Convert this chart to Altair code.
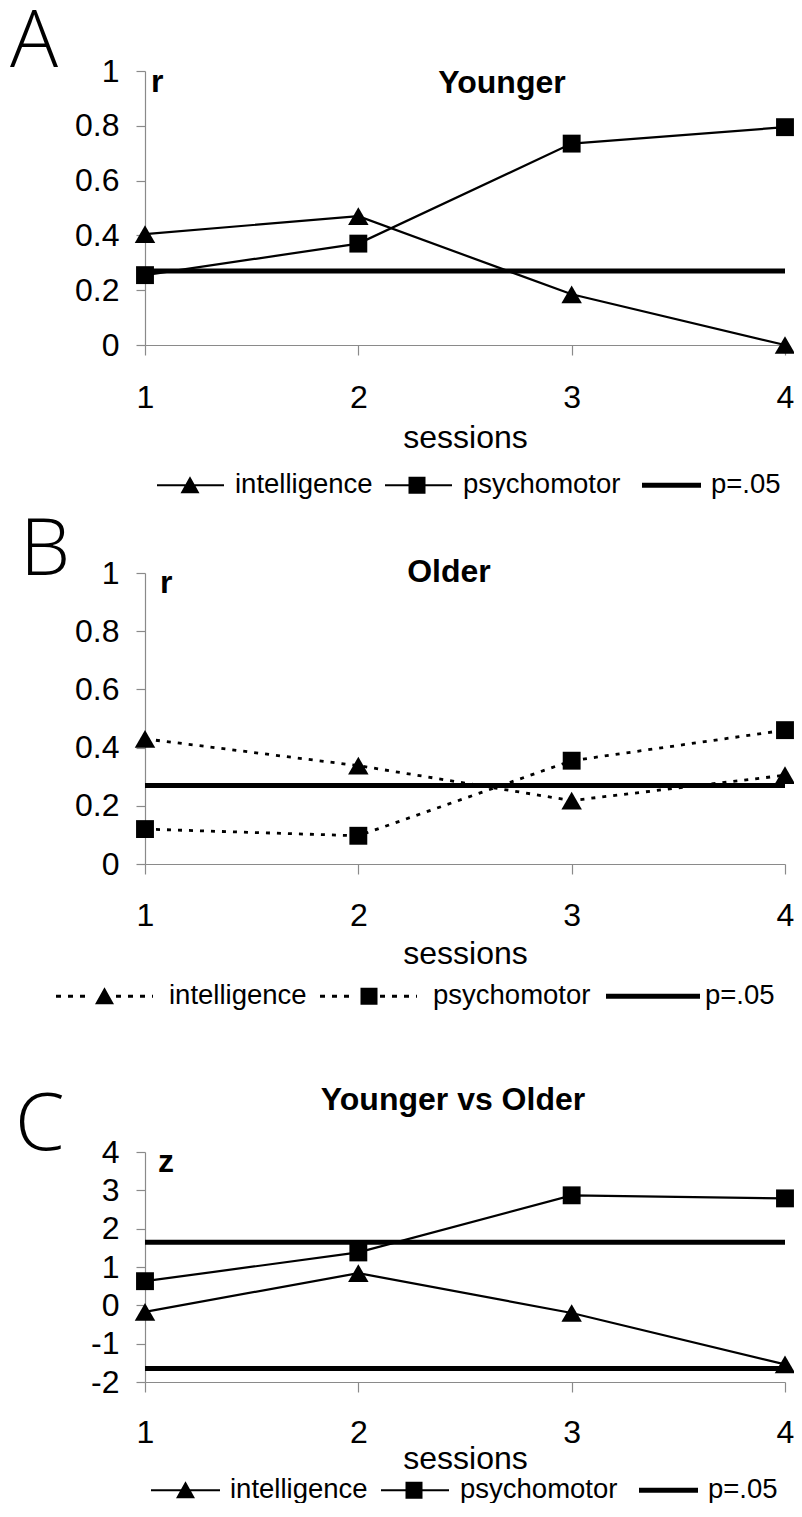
import altair as alt
import pandas as pd

# ---------------- data ----------------
sessions = [1, 2, 3, 4]
series_names = ["intelligence", "psychomotor"]
legend_items = ["intelligence", "psychomotor", "p=.05"]

younger_intelligence = [0.405, 0.47, 0.185, 0.0]
younger_psychomotor = [0.255, 0.37, 0.735, 0.795]
older_intelligence = [0.43, 0.338, 0.218, 0.305]
older_psychomotor = [0.12, 0.097, 0.355, 0.46]
z_intelligence = [-0.17, 0.84, -0.2, -1.54]
z_psychomotor = [0.63, 1.38, 2.87, 2.79]
r_critical = [0.27]
z_critical = [1.645, -1.645]

r_ticks = [0, 0.2, 0.4, 0.6, 0.8, 1]
z_ticks = [-2, -1, 0, 1, 2, 3, 4]

panel_letters = ["A", "B", "C"]
panel_titles = ["Younger", "Older", "Younger vs Older"]
value_symbols = ["r", "r", "z"]
x_title = "sessions"

# ---------------- styling ----------------
FONT = "Liberation Sans"
LETTER_FONT = "Open Sans"
W = 640
AXIS_GRAY = "#8a8a8a"
TXT = 32


def fmt(v):
    return f"{v:.4f}"


def rect(x0, x1, half_t, u):
    return f"M{fmt(x0/u)},{fmt(-half_t/u)}H{fmt(x1/u)}V{fmt(half_t/u)}H{fmt(x0/u)}Z"


def legend_shape(marker, box, x0, x1, mx, thick, dash=None):
    """Custom SVG symbol (unit coords): a line with a marker in it."""
    u = box / 2.0
    parts = []
    if dash is None:
        parts.append(rect(x0, x1, thick / 2.0, u))
    else:
        on, off = dash
        x = x0
        while x < x1:
            e = min(x + on, x1)
            if marker is None or e < mx - 9 or x > mx + 9:
                parts.append(rect(x, e, thick / 2.0, u))
            x += on + off
    if marker == "triangle":
        parts.append(
            f"M{fmt(mx/u)},{fmt(-9/u)}L{fmt((mx+9.5)/u)},{fmt(8/u)}L{fmt((mx-9.5)/u)},{fmt(8/u)}Z"
        )
    elif marker == "square":
        s = 8.5
        parts.append(
            f"M{fmt((mx-s)/u)},{fmt(-s/u)}H{fmt((mx+s)/u)}V{fmt(s/u)}H{fmt((mx-s)/u)}Z"
        )
    return " ".join(parts)


def make_panel(intel, psy, crit, ticks, letter, title, sym, lay):
    df = pd.DataFrame({
        "session": sessions + sessions,
        "value": intel + psy,
        "series": [series_names[0]] * len(sessions) + [series_names[1]] * len(sessions),
    })
    x = alt.X(
        "session:Q",
        scale=alt.Scale(domain=[min(sessions), max(sessions)], nice=False, zero=False),
        axis=alt.Axis(values=sessions, format="d", title=x_title,
                      labelPadding=lay["xlabpad"], titleY=lay["titleY"],
                      labelFlush=False, labelOverlap=False),
    )
    y = alt.Y(
        "value:Q",
        scale=alt.Scale(domain=[min(ticks), max(ticks)], nice=False, zero=False),
        axis=alt.Axis(values=ticks, labelExpr="toString(datum.value)", title=None,
                      labelFlush=False, labelOverlap=False),
    )
    rule = alt.Chart(pd.DataFrame({"value": crit})).mark_rule(
        color="black", strokeWidth=5, strokeCap="butt"
    ).encode(y=y)

    line_kw = dict(color="black", strokeWidth=lay["lw"])
    if lay.get("dash"):
        line_kw["strokeDash"] = lay["dash"]
    lines = alt.Chart(df).mark_line(**line_kw).encode(x=x, y=y, detail="series:N")

    tri = alt.Chart(df).transform_filter(
        alt.datum.series == series_names[0]
    ).mark_point(shape="triangle-up", filled=True, color="black", opacity=1, size=420).encode(x=x, y=y)
    sq = alt.Chart(df).transform_filter(
        alt.datum.series == series_names[1]
    ).mark_point(shape="square", filled=True, color="black", opacity=1, size=320).encode(x=x, y=y)

    box = lay["box"]
    shapes = [
        legend_shape("triangle", box, *lay["s1"], thick=lay["lthick"], dash=lay.get("ldash")),
        legend_shape("square", box, *lay["s2"], thick=lay["lthick"], dash=lay.get("ldash")),
        legend_shape(None, box, *lay["s3"], thick=5),
    ]
    leg = alt.Chart(pd.DataFrame({"item": legend_items})).transform_filter("false").mark_point(
        filled=True, color="black", opacity=1
    ).encode(
        shape=alt.Shape(
            "item:N",
            scale=alt.Scale(domain=legend_items, range=shapes),
            legend=alt.Legend(
                orient="none", legendX=lay["legX"], legendY=lay["legY"],
                direction="horizontal", columns=3, title=None,
                symbolSize=box * box, symbolStrokeWidth=0, symbolFillColor="black",
                symbolOpacity=1, labelFont=FONT, labelFontSize=27.5, labelColor="black",
                labelOffset=lay["labOff"], columnPadding=lay["colPad"], labelLimit=400,
                padding=0,
            ),
        )
    )

    one = pd.DataFrame({"t": [0]})
    letter_txt = alt.Chart(one).mark_text(
        text=letter, font=LETTER_FONT, fontSize=80, fontWeight=300, align="left",
        baseline="alphabetic", color="black"
    ).encode(x=alt.value(lay["letter"][0]), y=alt.value(lay["letter"][1]))
    title_txt = alt.Chart(one).mark_text(
        text=title, font=FONT, fontSize=TXT, fontWeight="bold", align="center",
        baseline="alphabetic", color="black"
    ).encode(x=alt.value(lay["title"][0]), y=alt.value(lay["title"][1]))
    sym_txt = alt.Chart(one).mark_text(
        text=sym, font=FONT, fontSize=TXT, fontWeight="bold", align="left",
        baseline="alphabetic", color="black"
    ).encode(x=alt.value(lay["sym"][0]), y=alt.value(lay["sym"][1]))

    return alt.layer(rule, lines, tri, sq, leg, letter_txt, title_txt, sym_txt).properties(
        width=W, height=lay["h"]
    )


lay_a = dict(h=274, xlabpad=52, titleY=102, lw=2.2,
             box=72, labOff=6, colPad=12, legX=12, legY=378, lthick=2.2,
             s1=(-36, 31, -3), s2=(-36, 31, -4), s3=(-27, 32, 0),
             letter=(-135, -4), title=(357, 22), sym=(6, 21))
lay_b = dict(h=291, xlabpad=51, titleY=99, lw=2.8, dash=[4, 7],
             box=88, labOff=13, colPad=13, legX=-77, legY=379, lthick=3, ldash=(5, 7),
             s1=(-56, 41, -7.5), s2=(-56, 41, -7), s3=(-42, 52, 0),
             letter=(-125, 2), title=(304, 9), sym=(15, 20))
lay_c = dict(h=230, xlabpad=50, titleY=86, lw=2.2,
             box=72, labOff=6, colPad=12, legX=7, legY=302, lthick=2.2,
             s1=(-37, 32, -2.5), s2=(-37, 31, -4), s3=(-27, 32, 0),
             letter=(-130, -2), title=(308, -42), sym=(13, 20))

panel_a = make_panel(younger_intelligence, younger_psychomotor, r_critical, r_ticks,
                     panel_letters[0], panel_titles[0], value_symbols[0], lay_a)
panel_b = make_panel(older_intelligence, older_psychomotor, r_critical, r_ticks,
                     panel_letters[1], panel_titles[1], value_symbols[1], lay_b)
panel_c = make_panel(z_intelligence, z_psychomotor, z_critical, z_ticks,
                     panel_letters[2], panel_titles[2], value_symbols[2], lay_c)


def spacer(h):
    return alt.Chart(pd.DataFrame({"t": [0]})).mark_point(opacity=0).properties(width=W, height=h)


chart = alt.vconcat(
    panel_a, spacer(228), panel_b, spacer(288), panel_c, spacing=0, bounds="flush"
).resolve_scale(shape="independent").resolve_legend(shape="independent").properties(
    autosize=alt.AutoSizeParams(type="none"),
    padding={"left": 137, "top": 63, "right": 9, "bottom": 1432},
    background="white",
).configure_view(stroke=None).configure_axis(
    grid=False, domainColor=AXIS_GRAY, tickColor=AXIS_GRAY, domainWidth=1.2, tickWidth=1.2,
    labelColor="black", labelFont=FONT, labelFontSize=TXT, titleFont=FONT,
    titleFontSize=TXT, titleFontWeight="normal", titleColor="black",
).configure_axisY(tickSize=9, labelPadding=17).configure_axisX(
    tickSize=10, labelBaseline="alphabetic", titleBaseline="alphabetic", labelAngle=0
)

chart.save("out.html", embed_options={"renderer": "svg", "actions": False})
